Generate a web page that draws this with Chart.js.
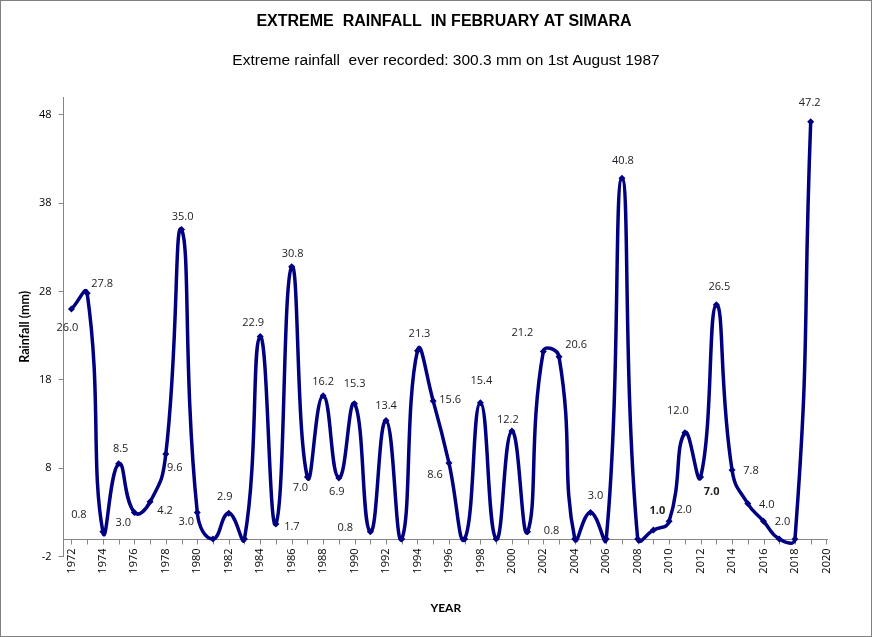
<!DOCTYPE html>
<html>
<head>
<meta charset="utf-8">
<script src="https://cdn.jsdelivr.net/npm/chart.js@4"></script>
<style>
  body { margin: 0; background: #fff; }
</style>
</head>
<body>
<canvas id="grafico" width="872" height="637"></canvas>
<script>
// dati
const anni = [1972,1973,1974,1975,1976,1977,1978,1979,1980,1981,1982,1983,1984,1985,1986,1987,
  1988,1989,1990,1991,1992,1993,1994,1995,1996,1997,1998,1999,2000,2001,2002,2003,2004,2005,
  2006,2007,2008,2009,2010,2011,2012,2013,2014,2015,2016,2017,2018,2019];
const pioggia = [26.0,27.8,0.8,8.5,3.0,4.2,9.6,35.0,3.0,0,2.9,0,22.9,1.7,30.8,7.0,
  16.2,6.9,15.3,0.8,13.4,0,21.3,15.6,8.6,0,15.4,0,12.2,0.8,21.2,20.6,0,3.0,
  0,40.8,0,1.0,2.0,12.0,7.0,26.5,7.8,4.0,2.0,0,0,47.2];
const etichette = ['26.0','27.8','0.8','8.5','3.0','4.2','9.6','35.0','3.0','','2.9','','22.9','1.7','30.8','7.0',
  '16.2','6.9','15.3','0.8','13.4','','21.3','15.6','8.6','','15.4','','12.2','0.8','21.2','20.6','','3.0',
  '','40.8','','1.0','2.0','12.0','7.0','26.5','7.8','4.0','2.0','','','47.2'];
const tickY = [-2, 8, 18, 28, 38, 48];
const tickX = [1972,1974,1976,1978,1980,1982,1984,1986,1988,1990,1992,1994,1996,1998,2000,2002,
  2004,2006,2008,2010,2012,2014,2016,2018,2020];
const titolo = 'EXTREME  RAINFALL  IN FEBRUARY AT SIMARA';
const sottotitolo = 'Extreme rainfall  ever recorded: 300.3 mm on 1st August 1987';

// spostamento delle etichette rispetto al punto [dx, dy]
const spostamenti = [[-4,19],[15,-9],[-24,-17],[2,-15],[-11,10],[15,9],[9,14],[1,-13],[-11,9],[0,0],[-4,-16],[0,0],
  [-7,-14],[16,3],[1,-13],[-7,11],[0,-14],[-2,14],[0,-20],[-25,-4],[0,-15],[0,0],[2,-17],[17,-1],[-14,12],[0,0],
  [1,-22],[0,0],[-4,-11],[24,-1],[-21,-19],[17,-12],[0,0],[5,-17],[0,0],[1,-17],[0,0],[4,-19],[15,-11],[-7,-22],
  [11,15],[3,-18],[19,1],[19,1],[19,1],[0,0],[0,0],[-1,-19]];
const grassetto = [2009, 2012];

const blu = '#000080';
const grigio = '#868686';

// cornice esterna e titoli
const Cornice = {
  id: 'cornice',
  beforeDraw: (chart) => {
    const ctx = chart.ctx;
    ctx.save();
    ctx.fillStyle = '#fff';
    ctx.fillRect(0, 0, chart.width, chart.height);
    ctx.strokeStyle = '#808080';
    ctx.lineWidth = 1;
    ctx.strokeRect(0.5, 0.5, chart.width - 1, chart.height - 1);

    ctx.fillStyle = '#000';
    ctx.textAlign = 'center';
    ctx.textBaseline = 'middle';
    ctx.font = 'bold 16px "Liberation Sans"';
    ctx.fillText(titolo, 444, 22);
    ctx.font = '15.5px "Liberation Sans"';
    ctx.fillText(sottotitolo, 446, 61);
    ctx.restore();
  }
};

// asse orizzontale a quota zero con tacche annuali ed etichette degli anni
const AsseZero = {
  id: 'asseZero',
  beforeDatasetsDraw: (chart) => {
    const ctx = chart.ctx;
    const x = chart.scales.x, y = chart.scales.y;
    const y0 = Math.round(y.getPixelForValue(0)) + 0.5;
    ctx.save();
    ctx.strokeStyle = grigio;
    ctx.lineWidth = 1;
    ctx.beginPath();
    ctx.moveTo(x.left, y0);
    ctx.lineTo(x.right, y0);
    for (let a = 1972; a <= 2020; a++) {
      const px = Math.round(x.getPixelForValue(a)) + 0.5;
      ctx.moveTo(px, y0);
      ctx.lineTo(px, y0 + 5);
    }
    ctx.stroke();

    ctx.fillStyle = '#000';
    ctx.font = '11px "Open Sans"';
    ctx.textAlign = 'right';
    ctx.textBaseline = 'middle';
    tickX.forEach((a) => {
      ctx.save();
      ctx.translate(x.getPixelForValue(a), y0 + 9);
      ctx.rotate(-Math.PI / 2);
      ctx.fillText(String(a), 0, 0);
      ctx.restore();
    });
    ctx.restore();
  }
};

// etichette dei valori
const Etichette = {
  id: 'etichette',
  afterDatasetsDraw: (chart) => {
    const ctx = chart.ctx;
    const meta = chart.getDatasetMeta(0);
    ctx.save();
    ctx.textAlign = 'center';
    ctx.textBaseline = 'middle';
    ctx.fillStyle = '#222';
    meta.data.forEach((p, i) => {
      if (!etichette[i]) return;
      ctx.font = (grassetto.includes(anni[i]) ? 'bold ' : '') + '11px "Open Sans"';
      ctx.fillText(etichette[i], p.x + spostamenti[i][0], p.y + spostamenti[i][1]);
    });
    ctx.restore();
  }
};

const ctx = document.getElementById('grafico').getContext('2d');
new Chart(ctx, {
  type: 'line',
  data: {
    datasets: [{
      data: anni.map((a, i) => ({ x: a, y: pioggia[i] })),
      borderColor: blu,
      backgroundColor: blu,
      borderWidth: 3.5,
      tension: 0.5,
      pointStyle: 'rectRot',
      pointRadius: 3.5,
      pointBorderWidth: 0,
      fill: false
    }]
  },
  options: {
    responsive: false,
    animation: false,
    layout: { padding: { left: 13, right: 44, top: 97, bottom: 18 } },
    plugins: {
      legend: { display: false },
      tooltip: { enabled: false }
    },
    scales: {
      x: {
        type: 'linear',
        min: 1971.5,
        max: 2020.1,
        ticks: { display: false },
        grid: { display: false, drawTicks: false },
        border: { display: false },
        title: {
          display: true,
          text: 'YEAR',
          color: '#000',
          font: { family: 'Lato', size: 12, weight: 'bold' },
          padding: { top: 44 }
        }
      },
      y: {
        min: -2,
        max: 50,
        afterBuildTicks: (s) => { s.ticks = tickY.map(v => ({ value: v })); },
        ticks: {
          color: '#000',
          font: { family: 'Open Sans', size: 11 },
          padding: 7
        },
        grid: {
          drawOnChartArea: false,
          drawTicks: true,
          tickLength: 5,
          color: grigio
        },
        border: { display: true, color: grigio, width: 1 },
        title: {
          display: true,
          text: 'Rainfall (mm)',
          color: '#000',
          font: { family: 'Lato', size: 12.5, weight: 'bold' },
          padding: { bottom: 0 }
        }
      }
    }
  },
  plugins: [Cornice, AsseZero, Etichette]
});
</script>
</body>
</html>
